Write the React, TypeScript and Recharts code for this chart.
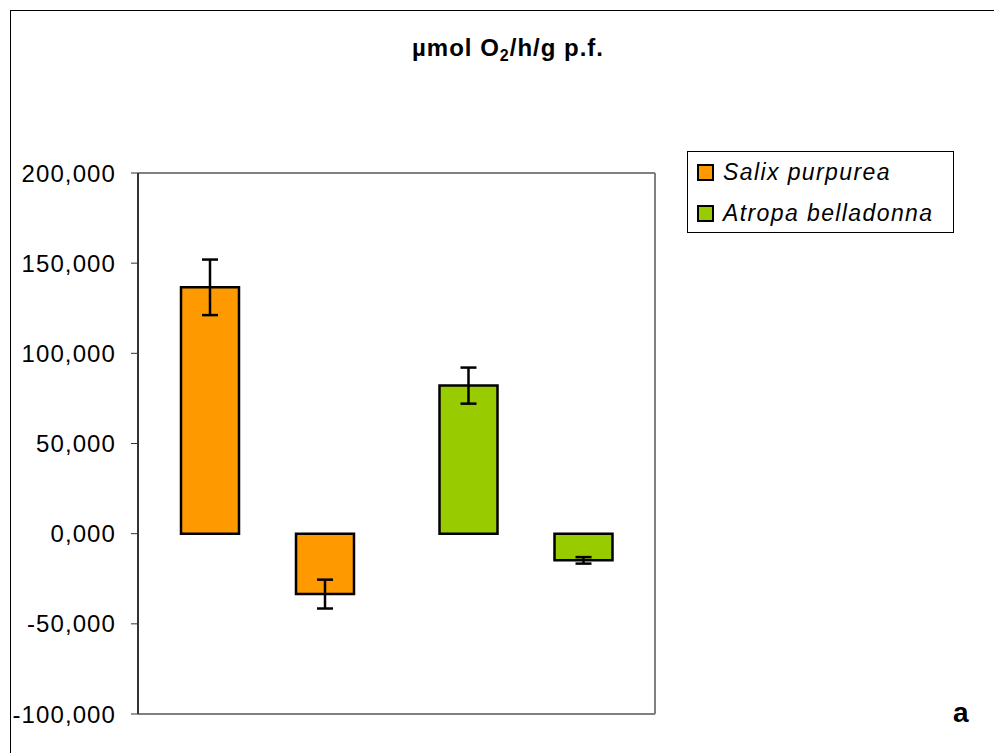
import { BarChart, Bar, XAxis, YAxis, CartesianGrid, ErrorBar, Cell, ReferenceLine } from "recharts";

// two groups, each holds two bars of the same species
const groups = ["Salix purpurea", "Atropa belladonna"];
const groupColors = ["#FF9900", "#99CC00"];
const firstValues = [136.6, 82.1];
const firstErrors = [15.4, 10];
const secondValues = [-33.5, -14.8];
const secondErrors = [8, 1.8];
const yTicks = [-100, -50, 0, 50, 100, 150, 200];

const data = groups.map((name, i) => ({
  name,
  first: firstValues[i],
  firstErr: firstErrors[i],
  second: secondValues[i],
  secondErr: secondErrors[i],
}));

const fmt = (v: number) => v.toFixed(3).replace(".", ",");
const FONT = "'Liberation Sans', Arial, sans-serif";
const GRID = "#808080";

export default function App() {
  return (
    <div
      style={{
        position: "absolute",
        left: 0,
        top: 0,
        width: 994,
        height: 753,
        overflow: "hidden",
        background: "#fff",
        fontFamily: FONT,
      }}
    >
      <div
        style={{
          position: "absolute",
          left: 10,
          top: 10,
          width: 1100,
          height: 900,
          border: "1px solid #000",
        }}
      />
      <div
        style={{
          position: "absolute",
          left: 0,
          width: 1016,
          top: 34,
          textAlign: "center",
          fontWeight: "bold",
          fontSize: 24,
          letterSpacing: 1,
        }}
      >
        µmol O<sub style={{ fontSize: 16, verticalAlign: -5 }}>2</sub>/h/g p.f.
      </div>

      <BarChart
        width={994}
        height={753}
        data={data}
        margin={{ top: 173, right: 338, bottom: 39, left: 10 }}
        barSize={58}
        barGap={57}
        style={{ position: "absolute", left: 0, top: 0 }}
      >
        <CartesianGrid vertical={false} stroke={GRID} strokeWidth={1} />
        <XAxis dataKey="name" hide />
        <YAxis
          yAxisId="left"
          width={128}
          domain={[yTicks[0], yTicks[yTicks.length - 1]]}
          ticks={yTicks}
          interval={0}
          tickFormatter={fmt}
          tickSize={7}
          tickMargin={15}
          tick={{ fontSize: 24, fill: "#000", fontFamily: FONT, letterSpacing: 1.1 }}
          tickLine={{ stroke: "#333" }}
          axisLine={{ stroke: "#333", strokeWidth: 2 }}
        />
        <YAxis
          yAxisId="right"
          orientation="right"
          width={1}
          domain={[yTicks[0], yTicks[yTicks.length - 1]]}
          ticks={yTicks}
          tick={false}
          tickLine={false}
          axisLine={{ stroke: GRID, strokeWidth: 2 }}
        />
        <ReferenceLine yAxisId="left" y={yTicks[yTicks.length - 1]} stroke={GRID} strokeWidth={2} />
        <ReferenceLine yAxisId="left" y={yTicks[0]} stroke={GRID} strokeWidth={2} />
        <Bar yAxisId="left" dataKey="first" stroke="#000" strokeWidth={2.5} isAnimationActive={false}>
          {data.map((d, i) => (
            <Cell key={d.name} fill={groupColors[i]} />
          ))}
          <ErrorBar dataKey="firstErr" width={8} stroke="#000" strokeWidth={2.5} direction="y" />
        </Bar>
        <Bar yAxisId="left" dataKey="second" stroke="#000" strokeWidth={2.5} isAnimationActive={false}>
          {data.map((d, i) => (
            <Cell key={d.name} fill={groupColors[i]} />
          ))}
          <ErrorBar dataKey="secondErr" width={8} stroke="#000" strokeWidth={2.5} direction="y" />
        </Bar>
      </BarChart>

      <div
        style={{
          position: "absolute",
          left: 687,
          top: 151,
          width: 267,
          height: 82,
          border: "1px solid #000",
          boxSizing: "border-box",
          padding: "0 0 0 9px",
        }}
      >
        {groups.map((g, i) => (
          <div key={g} style={{ display: "flex", alignItems: "center", height: 41 }}>
            <span
              style={{
                display: "inline-block",
                width: 13,
                height: 13,
                background: groupColors[i],
                border: "2px solid #000",
                marginRight: 9,
              }}
            />
            <span style={{ fontStyle: "italic", fontSize: 23, letterSpacing: 1.4 }}>{g}</span>
          </div>
        ))}
      </div>

      <div
        style={{
          position: "absolute",
          left: 953,
          top: 697,
          fontWeight: "bold",
          fontSize: 28,
        }}
      >
        a
      </div>
    </div>
  );
}
